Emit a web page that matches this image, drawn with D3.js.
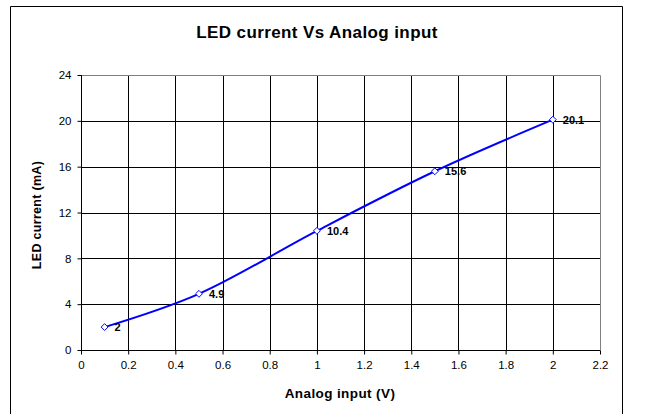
<!DOCTYPE html>
<html>
<head>
<meta charset="utf-8">
<script src="https://cdn.jsdelivr.net/npm/d3@7"></script>
<style>
  body { margin: 0; background: #fff; }
  svg { display: block; font-family: Arial, "Liberation Sans", sans-serif; }
</style>
</head>
<body>
<svg width="653" height="414"></svg>
<script>
// data
var inputV = [0.1, 0.5, 1, 1.5, 2];
var currentMA = [2, 4.9, 10.4, 15.6, 20.1];
var xTicks = [0, 0.2, 0.4, 0.6, 0.8, 1, 1.2, 1.4, 1.6, 1.8, 2, 2.2];
var yTicks = [0, 4, 8, 12, 16, 20, 24];

var svg = d3.select("svg");

var pLeft = 81, pRight = 600, pTop = 75, pBottom = 350;

var x = d3.scaleLinear().domain([0, 2.2]).range([pLeft, pRight]);
var y = d3.scaleLinear().domain([0, 24]).range([pBottom, pTop]);

// outer chart border (bottom edge runs off the picture)
svg.append("path")
  .attr("d", "M10.5,420V6.5H622.5V420")
  .attr("fill", "none")
  .attr("stroke", "#000")
  .attr("stroke-width", 1);

// title
svg.append("text")
  .attr("x", 317).attr("y", 38)
  .attr("text-anchor", "middle")
  .attr("font-size", 17).attr("font-weight", "bold")
  .attr("letter-spacing", 0.4)
  .text("LED current Vs Analog input");

// grid
var grid = svg.append("g");
grid.selectAll("line.h")
  .data(yTicks.filter(function(d) { return d > 0 && d < 24; }))
  .enter().append("line")
  .attr("x1", pLeft).attr("x2", pRight)
  .attr("y1", function(d) { return Math.round(y(d)) + 0.5; })
  .attr("y2", function(d) { return Math.round(y(d)) + 0.5; })
  .attr("stroke", "#000");
grid.selectAll("line.v")
  .data(xTicks.filter(function(d) { return d > 0 && d < 2.2; }))
  .enter().append("line")
  .attr("y1", pTop).attr("y2", pBottom)
  .attr("x1", function(d) { return Math.round(x(d)) + 0.5; })
  .attr("x2", function(d) { return Math.round(x(d)) + 0.5; })
  .attr("stroke", "#000");

// plot area border (top / right grey)
svg.append("path")
  .attr("d", "M" + (pLeft + 0.5) + "," + (pTop + 0.5) + "H" + (pRight + 0.5) + "V" + (pBottom + 0.5))
  .attr("fill", "none")
  .attr("stroke", "#808080");

// axes
var xAxis = d3.axisBottom(x).tickValues(xTicks).tickSize(4).tickPadding(6)
  .tickFormat(function(d) { return d; });
var gx = svg.append("g")
  .attr("transform", "translate(0," + (pBottom + 0.5) + ")")
  .call(xAxis);

var yAxis = d3.axisLeft(y).tickValues(yTicks).tickSize(4).tickPadding(6)
  .tickFormat(function(d) { return d; });
var gy = svg.append("g")
  .attr("transform", "translate(" + (pLeft + 0.5) + ",0)")
  .call(yAxis);

[gx, gy].forEach(function(g) {
  g.attr("font-size", 11.5).attr("font-family", "Arial, 'Liberation Sans', sans-serif");
  g.select(".domain").attr("stroke", "#000");
  g.selectAll(".tick line").attr("stroke", "#000");
  g.selectAll("text").attr("fill", "#000");
});
gx.select(".domain").attr("d", "M" + pLeft + ",0H" + pRight);
gy.select(".domain").attr("d", "M0," + pTop + "V" + pBottom);

// axis titles
svg.append("text")
  .attr("x", 340).attr("y", 398)
  .attr("text-anchor", "middle")
  .attr("font-size", 13.5).attr("font-weight", "bold")
  .attr("letter-spacing", 0.4)
  .text("Analog input (V)");

svg.append("text")
  .attr("transform", "translate(41,215) rotate(-90)")
  .attr("text-anchor", "middle")
  .attr("font-size", 12.5).attr("font-weight", "bold")
  .attr("letter-spacing", 0.3)
  .text("LED current (mA)");

// series
var pts = inputV.map(function(v, i) { return { x: v, y: currentMA[i] }; });

var line = d3.line()
  .x(function(d) { return x(d.x); })
  .y(function(d) { return y(d.y); })
  .curve(d3.curveCatmullRom.alpha(0.5));

svg.append("path")
  .datum(pts)
  .attr("d", line)
  .attr("fill", "none")
  .attr("stroke", "#0000ff")
  .attr("stroke-width", 2);

svg.selectAll("path.marker")
  .data(pts)
  .enter().append("path")
  .attr("class", "marker")
  .attr("d", d3.symbol(d3.symbolDiamond2, 30))
  .attr("transform", function(d) { return "translate(" + x(d.x) + "," + y(d.y) + ")"; })
  .attr("fill", "#fff")
  .attr("stroke", "#0000ff")
  .attr("stroke-width", 1);

svg.selectAll("text.lbl")
  .data(pts)
  .enter().append("text")
  .attr("class", "lbl")
  .attr("x", function(d) { return x(d.x) + 10; })
  .attr("y", function(d) { return y(d.y) + 4; })
  .attr("font-size", 11).attr("font-weight", "bold")
  .text(function(d) { return d.y; });
</script>
</body>
</html>
